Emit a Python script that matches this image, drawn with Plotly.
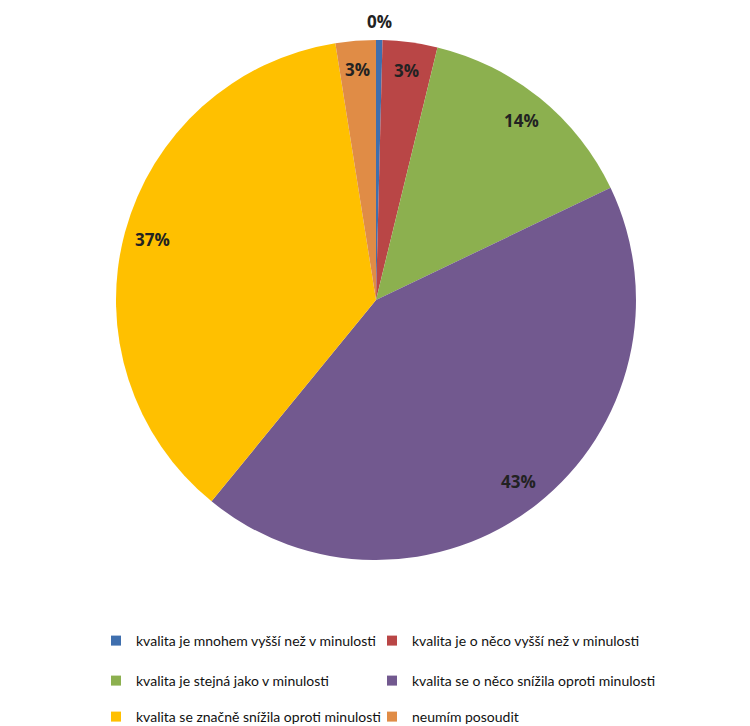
import math
import plotly.graph_objects as go

categories = [
    "kvalita je mnohem vyšší než v minulosti",
    "kvalita je o něco vyšší než v minulosti",
    "kvalita je stejná jako v minulosti",
    "kvalita se o něco snížila oproti minulosti",
    "kvalita se značně snížila oproti minulosti",
    "neumím posoudit",
]
values = [0.4, 3.4, 14.1, 43.0, 36.6, 2.5]
label_text = ["0%", "3%", "14%", "43%", "37%", "3%"]
colors = ["#3f6fae", "#b94646", "#8cb04f", "#72598f", "#ffc000", "#e08c46"]

W, H = 750, 726
R = 260
CX, CY = 376, 300  # pixel centre of pie (from top)

dom_x = [(CX - R) / W, (CX + R) / W]
dom_y = [1 - (CY + R) / H, 1 - (CY - R) / H]

fig = go.Figure(
    go.Pie(
        labels=categories,
        values=values,
        sort=False,
        direction="clockwise",
        rotation=0,
        marker=dict(colors=colors, line=dict(width=0)),
        textinfo="none",
        hoverinfo="label+percent",
        domain=dict(x=dom_x, y=dom_y),
        showlegend=False,
    )
)

# labels placed from the data (cumulative angles)
total = sum(values)
cum = 0.0
cx_p = (dom_x[0] + dom_x[1]) / 2
cy_p = (dom_y[0] + dom_y[1]) / 2
for i, v in enumerate(values):
    mid = (cum + v / 2) / total * 2 * math.pi
    cum += v
    f = 1.07 if i == 0 else 0.89
    x = cx_p + f * R * math.sin(mid) / W
    y = cy_p + f * R * math.cos(mid) / H
    fig.add_annotation(
        x=x, y=y, xref="paper", yref="paper", text=label_text[i],
        showarrow=False, xanchor="center", yanchor="middle",
        font=dict(family="Open Sans", size=17, color="#222222", weight="bold"),
    )

# legend: one small plotly legend per entry, in a 2-column grid
row_y = [641, 681, 717]
col_x = [96, 372]
legend_style = dict(
    orientation="h",
    xanchor="left",
    yanchor="middle",
    itemwidth=30,
    borderwidth=0,
    font=dict(family="Lato", size=14, color="#111111"),
    bgcolor="rgba(0,0,0,0)",
)
layout_legends = {}
for i, (cat, col) in enumerate(zip(categories, colors)):
    lname = "legend" if i == 0 else f"legend{i + 1}"
    fig.add_trace(
        go.Scatter(
            x=[None], y=[None], mode="markers", name=cat,
            marker=dict(symbol="square", size=10, color=col),
            legend=lname, showlegend=True, hoverinfo="skip",
        )
    )
    layout_legends[lname] = dict(
        legend_style, x=col_x[i % 2] / W, y=1 - row_y[i // 2] / H
    )

fig.update_layout(
    width=W,
    height=H,
    margin=dict(l=0, r=0, t=0, b=0, autoexpand=False),
    paper_bgcolor="white",
    plot_bgcolor="white",
    xaxis=dict(visible=False),
    yaxis=dict(visible=False),
    **layout_legends,
)

fig.write_html("out.html")
